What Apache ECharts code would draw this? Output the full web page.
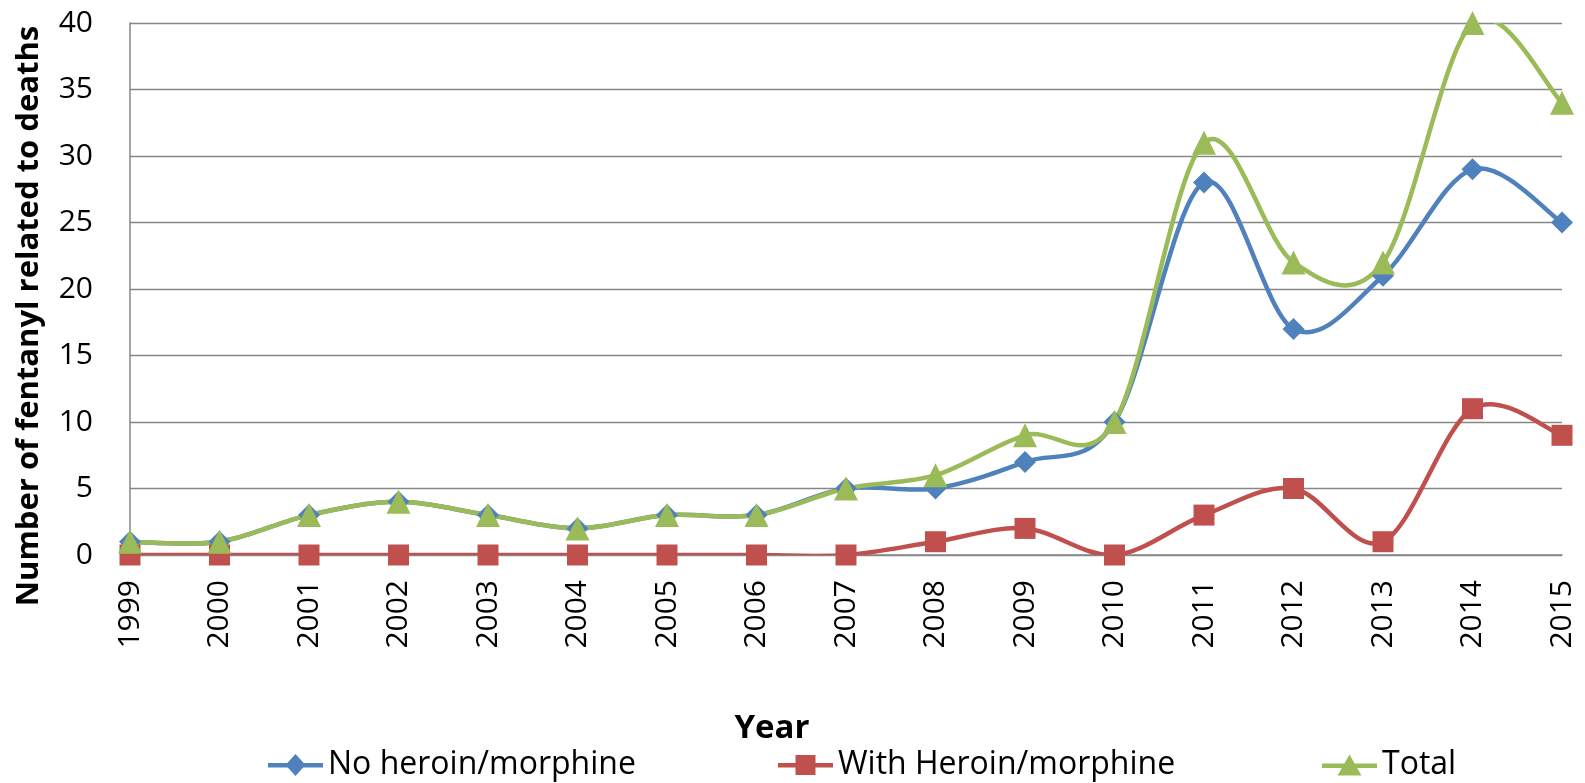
<!DOCTYPE html>
<html><head><meta charset="utf-8">
<script src="https://cdn.jsdelivr.net/npm/echarts@6/dist/echarts.min.js"></script>
<style>html,body{margin:0;padding:0;background:#fff}#c{width:1585px;height:783px}</style>
</head><body><div id="c"></div>
<script>
const years = ['1999','2000','2001','2002','2003','2004','2005','2006','2007','2008','2009','2010','2011','2012','2013','2014','2015'];
const noHeroin = [1,1,3,4,3,2,3,3,5,5,7,10,28,17,21,29,25];
const withHeroin = [0,0,0,0,0,0,0,0,0,1,2,0,3,5,1,11,9];
const total = [1,1,3,4,3,2,3,3,5,6,9,10,31,22,22,40,34];
const yTicks = [0,5,10,15,20,25,30,35,40];
const names = ['No heroin/morphine', 'With Heroin/morphine', 'Total'];

const FONT = '"Open Sans", "Noto Sans", sans-serif';
const BLUE = '#4F81BD', RED = '#C0504D', GREEN = '#9BBB59';
const LW = 4.5;
const chart = echarts.init(document.getElementById('c'));

// Excel-like smoothed curve (Catmull-Rom style Bezier), drawn in pixel space via api.coord
function curveSeries(values, color) {
  return {
    type: 'custom', silent: true, clip: true, animation: false,
    data: values.map((v, i) => [i, v]),
    encode: {x: 0, y: 1},
    renderItem: function (params, api) {
      const i = params.dataIndex;
      const n = values.length;
      if (i >= n - 1) return null;
      const p = k => { const j = Math.max(0, Math.min(n - 1, k)); return api.coord([j, values[j]]); };
      const p0 = p(i - 1), p1 = p(i), p2 = p(i + 1), p3 = p(i + 2);
      const t = 1 / 6;
      return {
        type: 'bezierCurve',
        shape: {
          x1: p1[0], y1: p1[1], x2: p2[0], y2: p2[1],
          cpx1: p1[0] + (p2[0] - p0[0]) * t, cpy1: p1[1] + (p2[1] - p0[1]) * t,
          cpx2: p2[0] - (p3[0] - p1[0]) * t, cpy2: p2[1] - (p3[1] - p1[1]) * t
        },
        style: {stroke: color, lineWidth: LW, fill: null, lineCap: 'round'}
      };
    }
  };
}
const markerSeries = (name, data, color, symbol, size) => ({
  name, type: 'line', data, color, symbol, symbolSize: size, showSymbol: true,
  lineStyle: {width: LW, color, opacity: 0}, itemStyle: {color},
  clip: false, animation: false
});
// legend icons: thick line with marker (box 55 x 22)
const ICON_LINE = 'M0 9 L55 9 L55 13.5 L0 13.5 Z ';
const icons = [
  'path://' + ICON_LINE + 'M27.5 0 L37.5 11 L27.5 22 L17.5 11 Z',
  'path://' + ICON_LINE + 'M17.5 1 L37.5 1 L37.5 21 L17.5 21 Z',
  'path://' + ICON_LINE + 'M27.5 0 L39.5 21 L15.5 21 Z'
];
const legendBase = {top: 744, itemWidth: 55, itemHeight: 22, itemGap: 10,
  itemStyle: {borderWidth: 0},
  textStyle: {fontFamily: FONT, fontSize: 32, color: '#000'}};

chart.setOption({
  animation: false,
  grid: {left: 130, right: 23, top: 23, bottom: 228},
  legend: [
    Object.assign({}, legendBase, {left: 263, data: [{name: names[0], icon: icons[0]}]}),
    Object.assign({}, legendBase, {left: 773, data: [{name: names[1], icon: icons[1]}]}),
    Object.assign({}, legendBase, {left: 1317, data: [{name: names[2], icon: icons[2]}]})
  ],
  graphic: [
    {type: 'text', x: 29, y: 316, rotation: Math.PI / 2,
     style: {text: 'Number of fentanyl related to deaths', fontFamily: FONT, fontSize: 31, fontWeight: 'bold',
             fill: '#000', align: 'center', verticalAlign: 'middle'}},
    {type: 'text', x: 772, y: 729,
     style: {text: 'Year', fontFamily: FONT, fontSize: 33, fontWeight: 'bold',
             fill: '#000', align: 'center', verticalAlign: 'middle'}}
  ],
  xAxis: {
    type: 'category', data: years, boundaryGap: false,
    axisLine: {lineStyle: {color: '#868686', width: 1.5}},
    axisTick: {show: false},
    axisLabel: {rotate: 90, fontFamily: FONT, fontSize: 30, color: '#000', margin: 25, interval: 0}
  },
  yAxis: {
    type: 'value', min: 0, max: 40, interval: 5,
    axisLine: {show: true, lineStyle: {color: '#868686', width: 1.5}},
    axisTick: {show: false},
    splitLine: {lineStyle: {color: '#868686', width: 1.3}},
    axisLabel: {fontFamily: FONT, fontSize: 30, color: '#000', margin: 37,
      formatter: v => yTicks.includes(v) ? String(v) : ''}
  },
  series: [
    curveSeries(noHeroin, BLUE),
    markerSeries(names[0], noHeroin, BLUE, 'diamond', 22),
    curveSeries(withHeroin, RED),
    markerSeries(names[1], withHeroin, RED, 'rect', 21),
    curveSeries(total, GREEN),
    markerSeries(names[2], total, GREEN, 'triangle', 24)
  ]
});
</script></body></html>
